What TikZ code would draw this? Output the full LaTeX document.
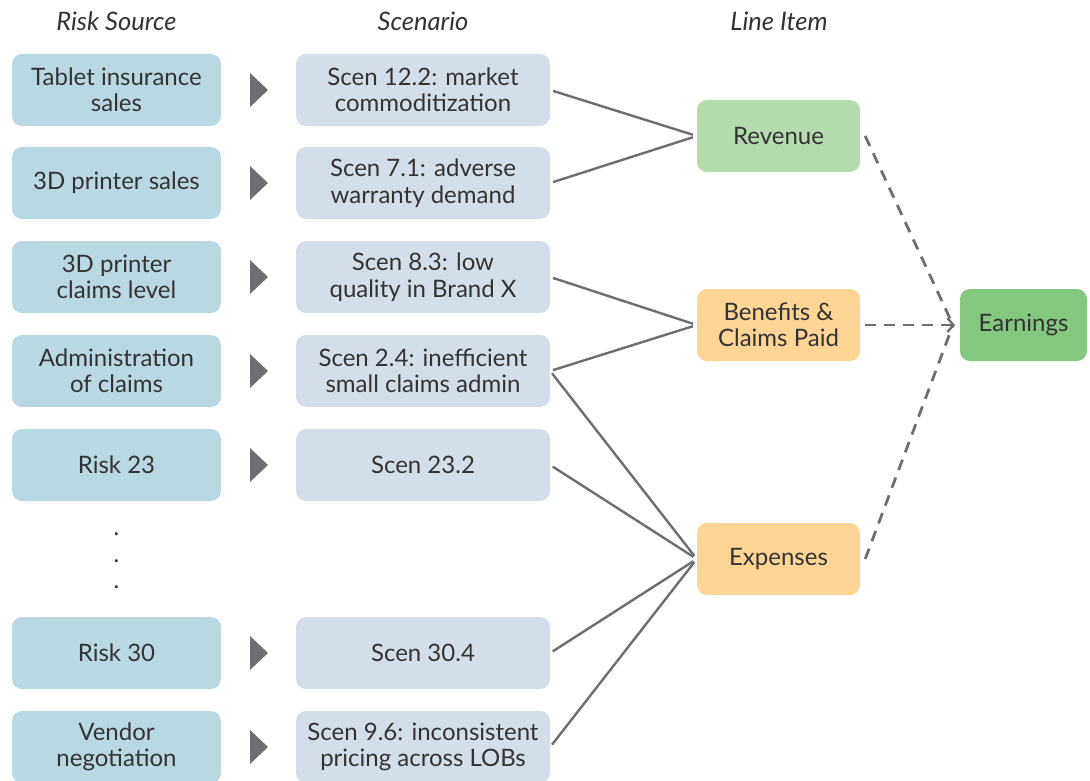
\documentclass[tikz,border=0pt]{standalone}
\usepackage{fontspec}
\setmainfont{Lato}
\usetikzlibrary{arrows.meta}
\definecolor{riskc}{HTML}{B9D9E2}
\definecolor{scenc}{HTML}{D3DEE9}
\definecolor{revc}{HTML}{B3DBAE}
\definecolor{orc}{HTML}{FDD594}
\definecolor{earnc}{HTML}{84C77E}
\definecolor{linec}{HTML}{6D6E71}
\definecolor{txtc}{HTML}{333333}
\tikzset{
  box/.style={rounded corners=10pt, minimum height=72pt, align=center, inner sep=0pt,
    font=\fontsize{24}{26.5}\selectfont, text=txtc},
  riskbox/.style={box, fill=riskc, minimum width=209pt},
  scenbox/.style={box, fill=scenc, minimum width=254pt},
  itembox/.style={box, minimum width=163pt},
  head/.style={font=\fontsize{25.5}{28}\selectfont\itshape, text=txtc},
  dotn/.style={text=txtc, font=\fontsize{24}{26}\selectfont},
  conn/.style={draw=linec, line width=2.4pt, shorten <=3pt, shorten >=4pt},
  dconn/.style={draw=linec, line width=2.8pt, dash pattern=on 11pt off 8pt},
  tri/.style={fill=linec}
}
\begin{document}
\begin{tikzpicture}[x=1pt,y=-1pt]
\useasboundingbox (0,0) rectangle (1090,781);
\begin{scope}
\clip (0,0) rectangle (1090,781);
% headers
\node[head] (h1) at (116.5,21) {Risk Source};
\node[head] (h2) at (423,21) {Scenario};
\node[head] (h3) at (779,21) {Line Item};
% risk sources
\node[riskbox] (r1) at (116.5,90) {Tablet insurance\\sales};
\node[riskbox] (r2) at (116.5,183) {3D printer sales};
\node[riskbox] (r3) at (116.5,277) {3D printer\\claims level};
\node[riskbox] (r4) at (116.5,371) {Administration\\of claims};
\node[riskbox] (r5) at (116.5,465) {Risk 23};
\node[riskbox] (r6) at (116.5,653) {Risk 30};
\node[riskbox] (r7) at (116.5,747) {Vendor\\negotiation};
% dots
\node[dotn] (d1) at (116.5,534) {.};
\node[dotn] (d2) at (116.5,561) {.};
\node[dotn] (d3) at (116.5,587) {.};
% scenarios
\node[scenbox] (s1) at (423,90) {Scen 12.2: market\\commoditization};
\node[scenbox] (s2) at (423,183) {Scen 7.1: adverse\\warranty demand};
\node[scenbox] (s3) at (423,277) {Scen 8.3: low\\quality in Brand X};
\node[scenbox] (s4) at (423,371) {Scen 2.4: inefficient\\small claims admin};
\node[scenbox] (s5) at (423,465) {Scen 23.2};
\node[scenbox] (s6) at (423,653) {Scen 30.4};
\node[scenbox] (s7) at (423,747) {Scen 9.6: inconsistent\\pricing across LOBs};
% triangles
\foreach \y in {90,183,277,371,465,653,747}{
  \fill[tri] (250,\y-17) -- (268,\y) -- (250,\y+17) -- cycle;
}
% line items
\node[itembox, fill=revc] (rev) at (778.5,136) {Revenue};
\node[itembox, fill=orc] (ben) at (778.5,325) {Benefits \&\\Claims Paid};
\node[itembox, fill=orc] (exp) at (778.5,559) {Expenses};
\node[box, fill=earnc, minimum width=127pt] (earn) at (1023.5,325) {Earnings};
% connectors
\draw[conn] (s1.east) -- (rev.west);
\draw[conn] (s2.east) -- (rev.west);
\draw[conn] (s3.east) -- (ben.west);
\draw[conn] (s4.east) -- (ben.west);
\draw[conn] (s4.east) -- (exp.west);
\draw[conn] (s5.east) -- (exp.west);
\draw[conn] (s6.east) -- (exp.west);
\draw[conn] (s7.east) -- (exp.west);
% dashed to earnings
\coordinate (conv) at (953,325);
\draw[dconn] ([xshift=5pt]rev.east) -- (conv);
\draw[dconn] ([xshift=5pt]exp.east) -- (conv);
\draw[dconn, -{Straight Barb[length=6pt,width=14pt,line width=2.4pt]}] ([xshift=5pt]ben.east) -- ([xshift=2pt]conv);
\end{scope}
\end{tikzpicture}
\end{document}
